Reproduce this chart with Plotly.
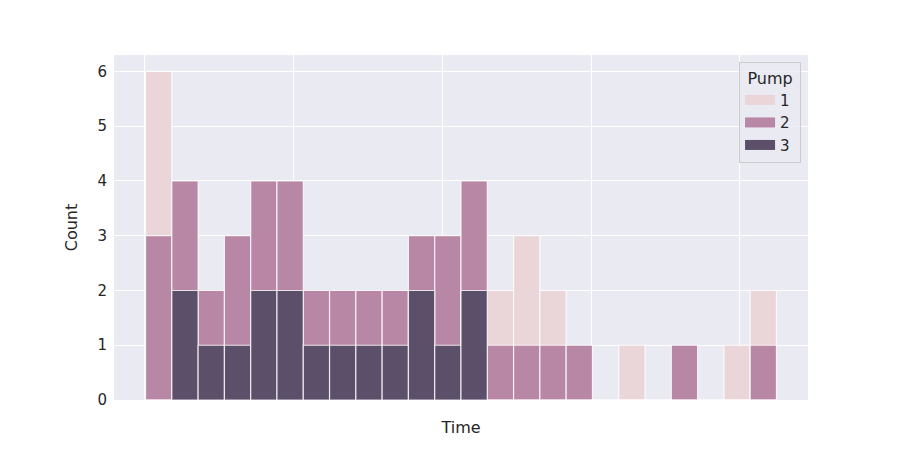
import plotly.graph_objects as go

# histogram of Time by Pump, 24 bins, layered
bins = list(range(24))
pump1 = [6, 0, 0, 0, 0, 0, 0, 0, 0, 0, 0, 0, 0, 2, 3, 2, 0, 0, 1, 0, 0, 0, 1, 2]
pump2 = [3, 4, 2, 3, 4, 4, 2, 2, 2, 2, 3, 3, 4, 1, 1, 1, 1, 0, 0, 0, 1, 0, 0, 1]
pump3 = [0, 2, 1, 1, 2, 2, 1, 1, 1, 1, 2, 1, 2, 0, 0, 0, 0, 0, 0, 0, 0, 0, 0, 0]
grid_x = [-0.03, 5.63, 11.29, 16.95, 22.61]

colors = {"1": "#EAD6D8", "2": "#B987A6", "3": "#5B4F6A"}

fig = go.Figure()
for name, vals in [("1", pump1), ("2", pump2), ("3", pump3)]:
    fig.add_trace(go.Bar(
        x=[b + 0.5 for b in bins], y=vals, width=1, name=name, showlegend=False,
        marker=dict(color=colors[name], line=dict(color="rgba(255,255,255,0.8)", width=1.2)),
    ))
    # legend patch (wide rectangle like matplotlib)
    fig.add_trace(go.Scatter(
        x=[None], y=[None], mode="lines", name=name + "&nbsp;",
        line=dict(color=colors[name], width=10),
    ))

fig.update_layout(
    width=900, height=450,
    margin=dict(l=106, r=100, t=47, b=58),
    barmode="overlay",
    paper_bgcolor="white", plot_bgcolor="#EAEAF2",
    font=dict(family="DejaVu Sans", size=15, color="#262626"),
    legend=dict(
        title=dict(text="Pump", font=dict(size=16), side="top center"),
        x=0.99, xanchor="right", y=0.98, yanchor="top",
        bgcolor="rgba(234,234,242,0.8)", bordercolor="#CCCCCC", borderwidth=1,
        font=dict(size=15), itemwidth=30, tracegroupgap=0,
    ),
)
fig.update_xaxes(
    range=[-1.2, 25.2], tickvals=grid_x, showticklabels=False,
    showgrid=True, gridcolor="white", gridwidth=1.3, zeroline=False,
    title=dict(text="Time", font=dict(size=16), standoff=21),
)
fig.update_yaxes(
    range=[0, 6.3], tickvals=[0, 1, 2, 3, 4, 5, 6],
    showgrid=True, gridcolor="white", gridwidth=1.3, zeroline=False,
    title=dict(text="Count", font=dict(size=16)), ticks="", ticklabelstandoff=6,
)

fig.write_html("out.html")
